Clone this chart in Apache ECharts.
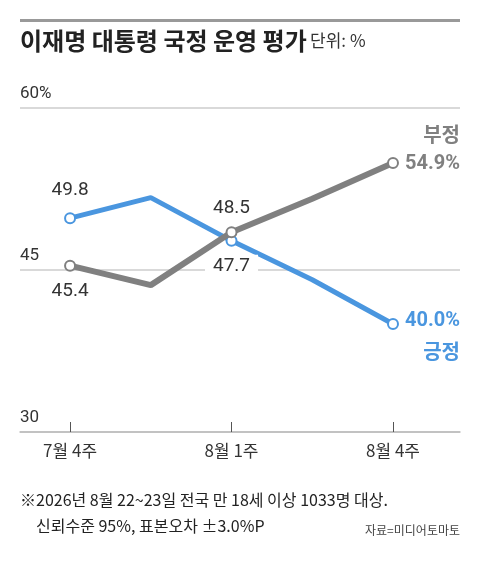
<!DOCTYPE html>
<html>
<head>
<meta charset="utf-8">
<script src="https://cdn.jsdelivr.net/npm/echarts@6/dist/echarts.min.js"></script>
<style>
html,body{margin:0;padding:0;background:#fff;}
#chart{width:480px;height:568px;}
</style>
</head>
<body>
<div id="chart"></div>
<script>
// 주차 / 긍정 / 부정
var weeks = ['7월 4주', '7월 5주', '8월 1주', '8월 2주', '8월 4주'];
var positive = [49.8, 51.7, 47.7, 44.1, 40.0];
var negative = [45.4, 43.6, 48.5, 51.6, 54.9];
var yTicks = [30, 45, 60];
var labeledIdx = [0, 2, 4];

var NUM_FONT = '"Liberation Sans Narrow", "Roboto", sans-serif';
var KR_FONT = '"Noto Sans CJK KR", sans-serif';
var BLUE = '#4a96df', GRAY = '#808080';

function makeData(values, labels) {
    return values.map(function (v, i) {
        var d = {value: [i, v]};
        if (labeledIdx.indexOf(i) < 0) {
            d.symbol = 'none';
        } else {
            d.label = labels[i];
        }
        return d;
    });
}

var blueLabels = {
    0: {show: true, position: 'top', distance: 12, color: '#333', fontSize: 19, fontFamily: NUM_FONT},
    2: {show: true, position: 'bottom', distance: 8, color: '#333', fontSize: 19, fontFamily: NUM_FONT,
        backgroundColor: '#fff', padding: [2, 8]},
    4: {show: true, position: 'right', distance: 6, offset: [0, 12], align: 'left',
        formatter: '{v|40.0%}\n{n|긍정}',
        rich: {
            v: {color: BLUE, fontSize: 20, fontWeight: 'bold', fontFamily: NUM_FONT, align: 'right', lineHeight: 30},
            n: {color: BLUE, fontSize: 20, fontWeight: 'bold', fontFamily: KR_FONT, align: 'right', lineHeight: 30}
        }}
};
var grayLabels = {
    0: {show: true, position: 'bottom', distance: 10, color: '#333', fontSize: 19, fontFamily: NUM_FONT},
    2: {show: true, position: 'top', distance: 8, color: '#333', fontSize: 19, fontFamily: NUM_FONT},
    4: {show: true, position: 'right', distance: 6, offset: [0, -14], align: 'left',
        formatter: '{n|부정}\n{v|54.9%}',
        rich: {
            v: {color: GRAY, fontSize: 20, fontWeight: 'bold', fontFamily: NUM_FONT, align: 'right', lineHeight: 30},
            n: {color: GRAY, fontSize: 20, fontWeight: 'bold', fontFamily: KR_FONT, align: 'right', lineHeight: 30}
        }}
};

var chart = echarts.init(document.getElementById('chart'));
var option = {
    backgroundColor: '#fff',
    animation: false,
    graphic: [
        {type: 'rect', shape: {x: 20, y: 19, width: 440, height: 3}, style: {fill: '#999'}},
        {type: 'text', left: 20, top: 29, style: {
            text: '{t|이재명 대통령 국정 운영 평가} {u|단위: %}',
            rich: {
                t: {fontSize: 24, fontWeight: 'bold', fill: '#222', fontFamily: KR_FONT},
                u: {fontSize: 17, fill: '#333', fontFamily: KR_FONT}
            }}},
        {type: 'text', left: 20, top: 492, style: {
            text: '※2026년 8월 22~23일 전국 만 18세 이상 1033명 대상.',
            fontSize: 16, fill: '#222', fontFamily: KR_FONT}},
        {type: 'text', left: 36, top: 518, style: {
            text: '신뢰수준 95%, 표본오차 ±3.0%P',
            fontSize: 16, fill: '#222', fontFamily: KR_FONT}},
        {type: 'text', right: 20, top: 524, style: {
            text: '자료=미디어토마토',
            fontSize: 12, fill: '#444', fontFamily: KR_FONT}}
    ],
    grid: {left: 20, right: 20, top: 108, bottom: 136},
    xAxis: {
        type: 'value',
        min: -0.62,
        max: 4.83,
        splitLine: {show: false},
        axisLine: {show: true, onZero: false, lineStyle: {color: '#bbb', width: 1.5}},
        axisTick: {show: true, customValues: [0, 2, 4], inside: true, length: 10, lineStyle: {color: '#555'}},
        axisLabel: {
            customValues: [0, 2, 4],
            margin: 10,
            fontSize: 17,
            color: '#333',
            fontFamily: KR_FONT,
            formatter: function (v) { return weeks[Math.round(v)]; }
        }
    },
    yAxis: {
        type: 'value',
        min: 30,
        max: 60,
        interval: 15,
        axisLine: {show: false},
        axisTick: {show: false},
        splitLine: {lineStyle: {color: '#ccc', width: 1.5}},
        axisLabel: {
            inside: true,
            margin: 0,
            align: 'left',
            verticalAlign: 'bottom',
            padding: [0, 0, 6, 0],
            fontSize: 17,
            color: '#333',
            fontFamily: NUM_FONT,
            formatter: function (v) { return v === yTicks[2] ? v + '%' : String(v); }
        }
    },
    series: [
        {
            name: '부정',
            type: 'line',
            data: makeData(negative, grayLabels),
            lineStyle: {color: GRAY, width: 6},
            itemStyle: {color: '#fff', borderColor: GRAY, borderWidth: 2},
            symbol: 'circle',
            symbolSize: 10,
            z: 3
        },
        {
            name: '긍정',
            type: 'line',
            data: makeData(positive, blueLabels),
            lineStyle: {color: BLUE, width: 5},
            itemStyle: {color: '#fff', borderColor: BLUE, borderWidth: 2},
            symbol: 'circle',
            symbolSize: 10,
            z: 2
        }
    ]
};
chart.setOption(option);
window.addEventListener('resize', function () {
    chart.resize();
});
</script>
</body>
</html>
